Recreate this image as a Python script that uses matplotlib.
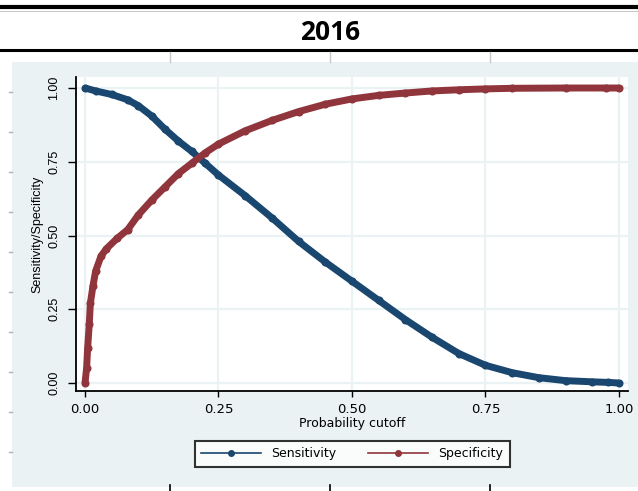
import matplotlib
matplotlib.use("Agg")
import matplotlib.pyplot as plt
from matplotlib.lines import Line2D
from matplotlib.patches import Rectangle

cut_sens = [0.0, 0.02, 0.05, 0.08, 0.10, 0.125, 0.15, 0.175, 0.20, 0.225, 0.25,
            0.30, 0.35, 0.40, 0.45, 0.50, 0.55, 0.60, 0.65, 0.70, 0.75, 0.80,
            0.85, 0.90, 0.95, 0.98, 1.0]
sensitivity = [1.0, 0.99, 0.978, 0.96, 0.94, 0.905, 0.86, 0.82, 0.785, 0.745, 0.705,
               0.635, 0.56, 0.48, 0.41, 0.345, 0.28, 0.215, 0.155, 0.10, 0.06, 0.035,
               0.018, 0.008, 0.004, 0.002, 0.0]

cut_spec = [0.0, 0.003, 0.005, 0.008, 0.01, 0.015, 0.02, 0.03, 0.04, 0.06, 0.08,
            0.10, 0.125, 0.15, 0.175, 0.20, 0.225, 0.25, 0.30, 0.35, 0.40, 0.45,
            0.50, 0.55, 0.60, 0.65, 0.70, 0.75, 0.80, 0.90, 0.975, 1.0]
specificity = [0.0, 0.05, 0.12, 0.20, 0.27, 0.33, 0.38, 0.43, 0.455, 0.49, 0.52,
               0.57, 0.62, 0.665, 0.71, 0.745, 0.78, 0.81, 0.855, 0.89, 0.92, 0.945,
               0.963, 0.975, 0.983, 0.99, 0.994, 0.997, 0.999, 1.0, 1.0, 1.0]

ticks = [0.0, 0.25, 0.5, 0.75, 1.0]
tick_labels = ["0.00", "0.25", "0.50", "0.75", "1.00"]

NAVY = "#1a476f"
MAROON = "#90353b"
BG = "#eaf2f3"

W, H = 638, 491
fig = plt.figure(figsize=(W / 100, H / 100), dpi=100)
fig.patch.set_facecolor("white")


def fx(px):
    return px / W


def fy(py):
    return 1 - py / H


# graph region behind the plot
fig.add_artist(Rectangle((fx(12), fy(487)), fx(638 - 12), (487 - 62) / H,
                         transform=fig.transFigure, facecolor=BG, edgecolor="none", zorder=0))

# header band with the year
fig.add_artist(Line2D([0, 1], [fy(7), fy(7)], transform=fig.transFigure, color="black", lw=3))
fig.add_artist(Line2D([0, 1], [fy(11), fy(11)], transform=fig.transFigure, color="#bbbbbb", lw=0.6))
fig.add_artist(Line2D([0, 1], [fy(50), fy(50)], transform=fig.transFigure, color="black", lw=2.2))
fig.text(fx(330), fy(32), "2016", ha="center", va="center", fontsize=19,
         fontweight="bold", family="Open Sans")
for xp in [170, 330, 490]:
    fig.add_artist(Line2D([fx(xp), fx(xp)], [fy(52), fy(62)], transform=fig.transFigure,
                          color="#c8c8c8", lw=1))
    fig.add_artist(Line2D([fx(xp), fx(xp)], [fy(485), fy(491)], transform=fig.transFigure,
                          color="black", lw=1.2))
for yp in range(92, 460, 40):
    fig.add_artist(Line2D([fx(9), fx(12)], [fy(yp), fy(yp)], transform=fig.transFigure,
                          color="#b0b0b0", lw=1))

ax = fig.add_axes([fx(76), fy(391), fx(628 - 76), (391 - 77) / H])
ax.set_facecolor("white")
ax.set_xlim(-0.01685, 1.0169)
ax.set_ylim(-0.0271, 1.0373)

ax.plot(cut_sens, sensitivity, color=NAVY, lw=5, marker="o", ms=4.8, mec=NAVY,
        solid_capstyle="butt", solid_joinstyle="round", zorder=3)
ax.plot(cut_spec, specificity, color=MAROON, lw=5, marker="o", ms=4.8, mec=MAROON,
        solid_capstyle="butt", solid_joinstyle="round", zorder=3)

ax.set_xticks(ticks)
ax.set_xticklabels(tick_labels, family="DejaVu Sans", fontsize=9.5)
ax.set_yticks(ticks)
ax.set_yticklabels(tick_labels, family="Liberation Sans", fontsize=9, rotation=90, va="center")
ax.tick_params(axis="x", length=4.5, width=1, pad=4, colors="black")
ax.tick_params(axis="y", length=5.5, width=1, pad=6, colors="black")
ax.grid(True, color=BG, lw=1.6)
ax.set_axisbelow(True)

for side in ["top", "right"]:
    ax.spines[side].set_visible(False)
for side in ["left", "bottom"]:
    ax.spines[side].set_linewidth(1.3)
    ax.spines[side].set_color("black")

ax.set_xlabel("Probability cutoff", family="DejaVu Sans", fontsize=9, labelpad=1)
fig.text(fx(37), fy(234), "Sensitivity/Specificity", rotation=90, ha="center",
         va="center", family="Liberation Sans", fontsize=9)

handles = [Line2D([], [], color=NAVY, lw=1.2, marker="o", ms=4),
           Line2D([], [], color=MAROON, lw=1.2, marker="o", ms=4)]
leg = fig.legend(handles, ["Sensitivity", "Specificity"], loc="center",
                 bbox_to_anchor=(fx(352), fy(454)), ncol=2, numpoints=1,
                 handlelength=4.8, columnspacing=2.6, handletextpad=0.8,
                 frameon=True, fancybox=False, edgecolor="black",
                 prop={"family": "DejaVu Sans", "size": 9}, borderpad=0.5)
leg.get_frame().set_linewidth(1.5)

fig.savefig("out.png", dpi=100)
